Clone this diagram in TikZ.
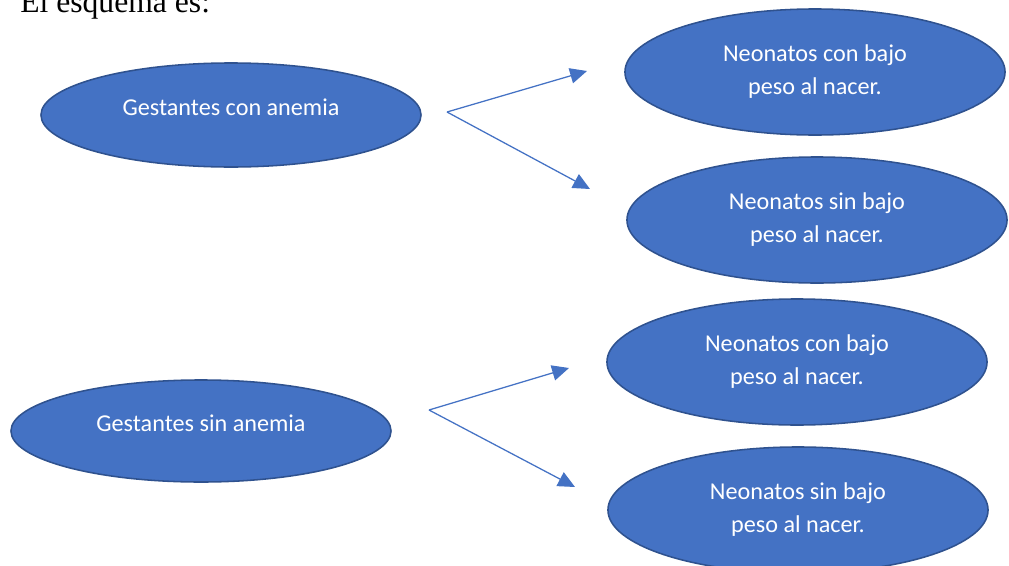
\documentclass[tikz,border=0pt]{standalone}
\usepackage{fontspec}
\setmainfont{Liberation Serif}
\newfontfamily\calibri{Carlito}
\usepackage{xcolor}
\definecolor{shapeFill}{HTML}{4472C4}
\definecolor{shapeBorder}{HTML}{2F528F}
\usetikzlibrary{shapes.geometric, arrows.meta}

\begin{document}
\begin{tikzpicture}[
        x=0.025cm, y=-0.025cm,
        motherNode/.style={
            ellipse,
            draw=shapeBorder,
            fill=shapeFill,
            line width=1.1pt,
            inner sep=0pt,
            minimum width=9.5cm,
            minimum height=2.6cm,
            text height=0.45cm,
            text depth=0.45cm,
            font=\calibri\fontsize{17.2}{23.5}\selectfont,
            text=white
        },
        babyNode/.style={
            ellipse,
            draw=shapeBorder,
            fill=shapeFill,
            line width=1.1pt,
            inner sep=0pt,
            minimum width=9.5cm,
            minimum height=3.15cm,
            align=center,
            font=\calibri\fontsize{17.2}{23.5}\selectfont,
            text=white
        },
        flowArrow/.style={
            -{Triangle[length=12pt, width=11pt]},
            shapeFill,
            line width=0.9pt
        }
    ]

    \useasboundingbox (0,0) rectangle (1009,566);
    \clip (0,0) rectangle (1009,566);

    % Heading
    \node[anchor=base west, inner sep=0pt, font=\fontsize{22.5}{27}\selectfont] (title) at (20,12) {El esquema es:};

    % Mothers (left column)
    \node[motherNode] (gestCon) at (231,115) {Gestantes con anemia};
    \node[motherNode, minimum height=2.55cm] (gestSin) at (201,431) {Gestantes sin anemia};

    % Newborns (right column)
    \node[babyNode] (conBajoA) at (815,72) {Neonatos con bajo\\peso al nacer.};
    \node[babyNode] (sinBajoA) at (817,220) {Neonatos sin bajo\\peso al nacer.};
    \node[babyNode] (conBajoB) at (797,362) {Neonatos con bajo\\peso al nacer.};
    \node[babyNode] (sinBajoB) at (798,510) {Neonatos sin bajo\\peso al nacer.};

    % Fork points and arrow tips
    \coordinate (forkCon) at (447,112);
    \coordinate (tipConA) at (587,71);
    \coordinate (tipSinA) at (590,189);
    \coordinate (forkSin) at (429,410);
    \coordinate (tipConB) at (569,368);
    \coordinate (tipSinB) at (575,487);

    % Connections
    \draw[flowArrow] (forkCon) -- (tipConA);
    \draw[flowArrow] (forkCon) -- (tipSinA);
    \draw[flowArrow] (forkSin) -- (tipConB);
    \draw[flowArrow] (forkSin) -- (tipSinB);

\end{tikzpicture}
\end{document}
